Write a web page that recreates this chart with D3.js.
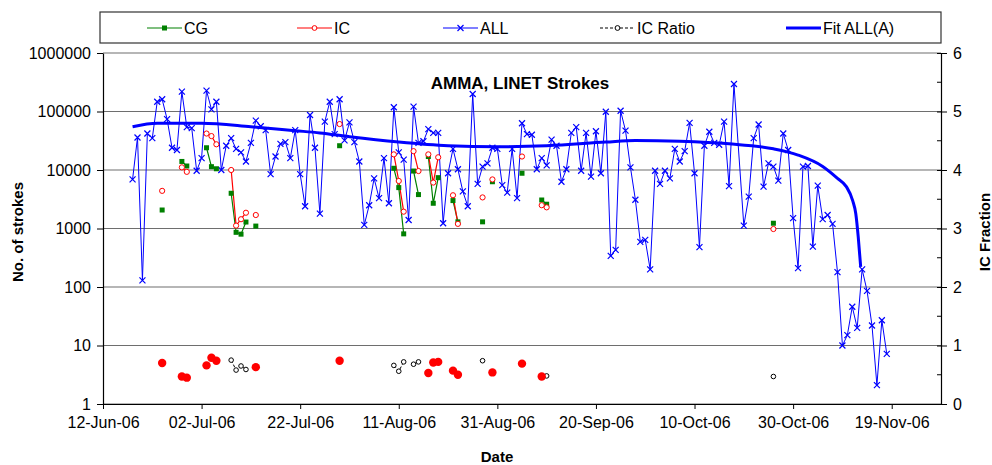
<!DOCTYPE html>
<html>
<head>
<meta charset="utf-8">
<script src="https://cdn.jsdelivr.net/npm/d3@7"></script>
<style>
  body { margin: 0; background: #fff; }
  svg { font-family: "Liberation Sans", Arial, sans-serif; }
</style>
</head>
<body>
<div id="chart"></div>
<script>
// ALL strokes, one value per day from 18-Jun-06 (null = no data)
let allStart = "2006-06-18";
let allValues = [
  6900, 36000, 130, 42000, 35000, 147000, 162000, 74000, 24000, 22000,
  218000, 54000, 52000, 9700, 16000, 227000, 109000, 147000, 10000, 26000,
  35000, 23000, 20000, 14000, 29000, 70000, 56000, 48000, 8500, 17000,
  28000, 30000, 16000, 48000, 8500, 2400, 87000, 24000, 1800,
  67000, 147000, 41000, 162000, 32000, 65000, 30000, 14000, 1150, 2500,
  7200, 3300, 16000, 2700, 118000, 20000, 15000, 1400, 121000, 29000,
  31000, 50000, 43000, 43000, 1230, 8800, 23000, 10300, 4300, 2400,
  199000, 5800, 11400, 13000, 24000, 23000, 5500, 4100, 23000, 3300,
  63000, 41000, 40000, 10300, 16000, 12000,
  33000, 26000, 6300, 10300, 43000, 54000, 9700, 43000, 7700, 46000,
  8800, 99000, 340, 430, 103000, 47000, 11100, 3100, 590, 640,
  200, 9700, 5800, 9700, 7200, 23000, 14000, 21000, 64000, 8800,
  480, 26000, 45000, 29000, 27000, 67000, 5300, 295000,
  null,
  1120, 3500, 35000, 60000, 5200, 13000, 11400, 6600, 42000, 22000,
  1500, 210, 11400, 11700, 490, 5400, 1450, 1700, 1200, 180,
  10, 15, 46, 20, 200, 86, 22, 2.1, 27, 7.2
];

// CG and IC strokes on the days they were counted
let eventDates = [
  "2006-06-24", "2006-06-28", "2006-06-29", "2006-07-03", "2006-07-04",
  "2006-07-05", "2006-07-08", "2006-07-09", "2006-07-10", "2006-07-11",
  "2006-07-13", "2006-07-30", "2006-08-10", "2006-08-11", "2006-08-12",
  "2006-08-14", "2006-08-15", "2006-08-17", "2006-08-18", "2006-08-19",
  "2006-08-22", "2006-08-23", "2006-08-28", "2006-08-30", "2006-09-05",
  "2006-09-09", "2006-09-10", "2006-10-26"
];
let cgValues = [
  2070, 14000, 11700, 24000, 11400, 10500, 4000, 860, 800, 1290,
  1100, 26000, 10700, 5000, 810, 9600, 3800, 17000, 2700, 7400,
  3000, 1300, 1300, 6300, 8800, 3070, 2600, 1230
];
let icValues = [
  4400, 11100, 9300, 42000, 38000, 27500, 10000, 1120, 1440, 1860,
  1700, 61000, 18500, 6500, 1940, 21000, 9600, 18500, 6100, 16500,
  3700, 1200, 3400, 6900, 17000, 2500, 2300, 980
];

// IC ratio (right axis)
let ratioDates = [
  "2006-07-08", "2006-07-09", "2006-07-10", "2006-07-11", "2006-08-10",
  "2006-08-11", "2006-08-12", "2006-08-14", "2006-08-15", "2006-08-28",
  "2006-09-10", "2006-10-26"
];
let ratioValues = [0.75, 0.58, 0.65, 0.59, 0.66, 0.56, 0.72, 0.68, 0.72, 0.74, 0.48, 0.47];

let ratioDotDates = [
  "2006-06-24", "2006-06-28", "2006-06-29", "2006-07-03", "2006-07-04",
  "2006-07-05", "2006-07-13", "2006-07-30", "2006-08-17", "2006-08-18",
  "2006-08-19", "2006-08-22", "2006-08-23", "2006-08-30", "2006-09-05",
  "2006-09-09"
];
let ratioDotValues = [
  0.70, 0.47, 0.45, 0.66, 0.79, 0.74, 0.63, 0.74, 0.53, 0.71,
  0.72, 0.57, 0.50, 0.54, 0.69, 0.47
];

// Fit ALL(A)
let fitDates = [
  "2006-06-18", "2006-06-23", "2006-07-02", "2006-07-12", "2006-07-21",
  "2006-07-26", "2006-08-01", "2006-08-11", "2006-08-21", "2006-08-31",
  "2006-09-10", "2006-09-22", "2006-09-28", "2006-10-07", "2006-10-17",
  "2006-10-26", "2006-10-31", "2006-11-05", "2006-11-08", "2006-11-09T19:00",
  "2006-11-11T02:00", "2006-11-11T17:00", "2006-11-12T05:00", "2006-11-12T17:00"
];
let fitValues = [
  55000, 63000, 63000, 55000, 47000, 43000, 37000, 30000, 26000, 25000,
  26000, 30000, 32000, 31000, 28000, 23000, 18000, 11500, 7200, 5200,
  3000, 1800, 720, 220
];

let xTicks = [
  "2006-06-12", "2006-07-02", "2006-07-22", "2006-08-11", "2006-08-31",
  "2006-09-20", "2006-10-10", "2006-10-30", "2006-11-19"
];
let yTicks = [1, 10, 100, 1000, 10000, 100000, 1000000];
let y2Ticks = [0, 1, 2, 3, 4, 5, 6];

let parseDay = d3.timeParse("%Y-%m-%d");
let parseHour = d3.timeParse("%Y-%m-%dT%H:%M");
let parse = (s) => parseDay(s) || parseHour(s);

let width = 992,
  height = 465,
  plotLeft = 103,
  plotRight = 941,
  plotTop = 53,
  plotBottom = 404;

let svg = d3
  .select("#chart")
  .append("svg")
  .attr("width", width)
  .attr("height", height);

svg.append("rect").attr("width", width).attr("height", height).attr("fill", "#fff");

let xScale = d3
  .scaleTime()
  .domain([parse("2006-06-12"), parse("2006-11-29")])
  .range([plotLeft, plotRight]);

let yScale = d3.scaleLog().domain([1, 1000000]).range([plotBottom, plotTop]);
let y2Scale = d3.scaleLinear().domain([0, 6]).range([plotBottom, plotTop]);

// gridlines
svg
  .append("g")
  .selectAll("line")
  .data(yTicks)
  .enter()
  .append("line")
  .attr("x1", plotLeft)
  .attr("x2", plotRight)
  .attr("y1", (d) => yScale(d))
  .attr("y2", (d) => yScale(d))
  .attr("stroke", "#6e6e6e")
  .attr("stroke-width", 1.2);

// axes
let xAxis = d3
  .axisBottom(xScale)
  .tickValues(xTicks.map(parse))
  .tickFormat(d3.timeFormat("%d-%b-%y"))
  .tickSizeInner(5)
  .tickSizeOuter(0)
  .tickPadding(8);

let yAxis = d3
  .axisLeft(yScale)
  .tickValues(yTicks)
  .tickFormat(d3.format("d"))
  .tickSizeInner(6)
  .tickSizeOuter(0)
  .tickPadding(6);

let y2Axis = d3
  .axisRight(y2Scale)
  .tickValues(y2Ticks)
  .tickFormat(d3.format("d"))
  .tickSizeInner(6)
  .tickSizeOuter(0)
  .tickPadding(6);

let gx = svg
  .append("g")
  .attr("transform", "translate(0," + plotBottom + ")")
  .call(xAxis);
let gy = svg
  .append("g")
  .attr("transform", "translate(" + plotLeft + ",0)")
  .call(yAxis);
let gy2 = svg
  .append("g")
  .attr("transform", "translate(" + plotRight + ",0)")
  .call(y2Axis);

// minor ticks on the right axis
gy2
  .selectAll(".minor")
  .data([0.5, 1.5, 2.5, 3.5, 4.5, 5.5])
  .enter()
  .append("line")
  .attr("class", "minor")
  .attr("x1", -4)
  .attr("x2", 0)
  .attr("y1", (d) => y2Scale(d))
  .attr("y2", (d) => y2Scale(d));
gy2.selectAll(".tick line").attr("x1", -4);

[gx, gy, gy2].forEach((g) => {
  g.selectAll("path").attr("stroke", "#000").attr("stroke-width", 1.2);
  g.selectAll("line").attr("stroke", "#000");
  g.selectAll("text").attr("fill", "#000").style("font-size", "16px");
});

// ALL series
let allData = allValues
  .map((v, i) => ({ date: d3.timeDay.offset(parse(allStart), i), value: v }))
  .filter((d) => d.value != null);

let logLine = d3
  .line()
  .x((d) => xScale(d.date))
  .y((d) => yScale(d.value));

svg
  .append("path")
  .datum(allData)
  .attr("d", logLine)
  .attr("fill", "none")
  .attr("stroke", "#0000ff")
  .attr("stroke-width", 1);

svg
  .append("g")
  .selectAll("path")
  .data(allData)
  .enter()
  .append("path")
  .attr("transform", (d) => "translate(" + xScale(d.date) + "," + yScale(d.value) + ")")
  .attr("d", "M-3,-3L3,3M-3,3L3,-3")
  .attr("stroke", "#0000ff")
  .attr("stroke-width", 1.2);

// Fit line
let fitData = fitDates.map((d, i) => ({ date: parse(d), value: fitValues[i] }));
let fitLine = d3
  .line()
  .curve(d3.curveMonotoneX)
  .x((d) => xScale(d.date))
  .y((d) => yScale(d.value));
svg
  .append("path")
  .datum(fitData)
  .attr("d", fitLine)
  .attr("fill", "none")
  .attr("stroke", "#0000ff")
  .attr("stroke-width", 3);

// split into runs of consecutive days
function splitRuns(points) {
  let runs = [],
    cur = [];
  points.forEach((p, i) => {
    if (i > 0 && d3.timeDay.count(points[i - 1].date, p.date) > 1) {
      runs.push(cur);
      cur = [];
    }
    cur.push(p);
  });
  if (cur.length) runs.push(cur);
  return runs;
}

let cgData = eventDates.map((d, i) => ({ date: parse(d), value: cgValues[i] }));
let icData = eventDates.map((d, i) => ({ date: parse(d), value: icValues[i] }));

svg
  .append("g")
  .selectAll("path")
  .data(splitRuns(cgData))
  .enter()
  .append("path")
  .attr("d", logLine)
  .attr("fill", "none")
  .attr("stroke", "#008000")
  .attr("stroke-width", 1.2);

svg
  .append("g")
  .selectAll("path")
  .data(splitRuns(icData))
  .enter()
  .append("path")
  .attr("d", logLine)
  .attr("fill", "none")
  .attr("stroke", "#ff0000")
  .attr("stroke-width", 1.2);

svg
  .append("g")
  .selectAll("rect")
  .data(cgData)
  .enter()
  .append("rect")
  .attr("x", (d) => xScale(d.date) - 2.5)
  .attr("y", (d) => yScale(d.value) - 2.5)
  .attr("width", 5)
  .attr("height", 5)
  .attr("fill", "#008000");

svg
  .append("g")
  .selectAll("circle")
  .data(icData)
  .enter()
  .append("circle")
  .attr("cx", (d) => xScale(d.date))
  .attr("cy", (d) => yScale(d.value))
  .attr("r", 2.6)
  .attr("fill", "#fff")
  .attr("stroke", "#ff0000")
  .attr("stroke-width", 1);

// IC ratio
let ratioLine = d3
  .line()
  .x((d) => xScale(d.date))
  .y((d) => y2Scale(d.value));

let ratioData = ratioDates.map((d, i) => ({ date: parse(d), value: ratioValues[i] }));
let ratioDots = ratioDotDates.map((d, i) => ({ date: parse(d), value: ratioDotValues[i] }));

svg
  .append("g")
  .selectAll("path")
  .data(splitRuns(ratioData))
  .enter()
  .append("path")
  .attr("d", ratioLine)
  .attr("fill", "none")
  .attr("stroke", "#000")
  .attr("stroke-width", 1)
  .attr("stroke-dasharray", "3,2");

svg
  .append("g")
  .selectAll("circle")
  .data(ratioData)
  .enter()
  .append("circle")
  .attr("cx", (d) => xScale(d.date))
  .attr("cy", (d) => y2Scale(d.value))
  .attr("r", 2.3)
  .attr("fill", "#fff")
  .attr("stroke", "#000")
  .attr("stroke-width", 1);

svg
  .append("g")
  .selectAll("circle")
  .data(ratioDots)
  .enter()
  .append("circle")
  .attr("cx", (d) => xScale(d.date))
  .attr("cy", (d) => y2Scale(d.value))
  .attr("r", 4.2)
  .attr("fill", "#ff0000");

// title and axis titles
svg
  .append("text")
  .attr("x", 520)
  .attr("y", 89)
  .attr("text-anchor", "middle")
  .style("font-size", "17px")
  .style("font-weight", "bold")
  .text("AMMA, LINET Strokes");

svg
  .append("text")
  .attr("transform", "translate(23,232) rotate(-90)")
  .attr("text-anchor", "middle")
  .style("font-size", "15px")
  .style("font-weight", "bold")
  .text("No. of strokes");

svg
  .append("text")
  .attr("transform", "translate(990,232) rotate(-90)")
  .attr("text-anchor", "middle")
  .style("font-size", "15px")
  .style("font-weight", "bold")
  .text("IC Fraction");

svg
  .append("text")
  .attr("x", 497)
  .attr("y", 462)
  .attr("text-anchor", "middle")
  .style("font-size", "15px")
  .style("font-weight", "bold")
  .text("Date");

// legend
let legendNames = ["CG", "IC", "ALL", "IC Ratio", "Fit ALL(A)"];
let legendX = [147, 297, 443, 600, 786];
let legendColor = ["#008000", "#ff0000", "#0000ff", "#000", "#0000ff"];

let legend = svg.append("g");
legend
  .append("rect")
  .attr("x", 100)
  .attr("y", 12)
  .attr("width", 841)
  .attr("height", 31)
  .attr("fill", "#fff")
  .attr("stroke", "#333")
  .attr("stroke-width", 1.2);

let item = legend
  .selectAll(".item")
  .data(legendNames)
  .enter()
  .append("g")
  .attr("class", "item")
  .attr("transform", (d, i) => "translate(" + legendX[i] + ",28)");

item
  .append("line")
  .attr("x1", 0)
  .attr("x2", 35)
  .attr("stroke", (d, i) => legendColor[i])
  .attr("stroke-width", (d, i) => (i == 4 ? 3 : 1.2))
  .attr("stroke-dasharray", (d, i) => (i == 3 ? "3,2" : null));

item
  .filter((d) => d == "CG")
  .append("rect")
  .attr("x", 15)
  .attr("y", -2.5)
  .attr("width", 5)
  .attr("height", 5)
  .attr("fill", "#008000");
item
  .filter((d) => d == "IC" || d == "IC Ratio")
  .append("circle")
  .attr("cx", 17.5)
  .attr("r", 2.4)
  .attr("fill", "#fff")
  .attr("stroke", (d) => (d == "IC" ? "#ff0000" : "#000"));
item
  .filter((d) => d == "ALL")
  .append("path")
  .attr("d", "M14.5,-3L20.5,3M14.5,3L20.5,-3")
  .attr("stroke", "#0000ff")
  .attr("stroke-width", 1.2);

item
  .append("text")
  .attr("x", 37)
  .attr("y", 6)
  .style("font-size", "16px")
  .text((d) => d);
</script>
</body>
</html>
